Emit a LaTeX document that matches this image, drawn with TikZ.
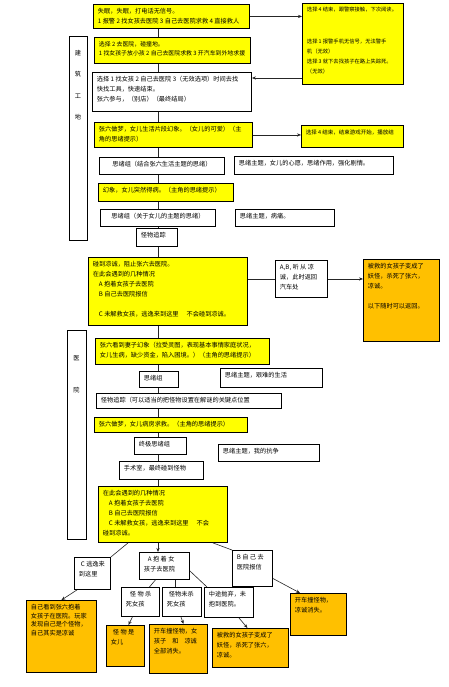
\documentclass[tikz,border=0pt]{standalone}
\usepackage{fontspec}
\newfontfamily\cjk{Noto Sans CJK SC}
\usetikzlibrary{arrows.meta}
\XeTeXlinebreaklocale "zh"
\XeTeXlinebreakskip=0pt plus 0.5pt
\definecolor{yel}{HTML}{FFFF00}
\definecolor{org}{HTML}{FFC000}
\tikzset{
 bx/.style={draw=black, line width=0.9pt, anchor=north west, inner xsep=4.5pt, inner ysep=4pt, font=\cjk\fontsize{6.2}{10}\selectfont, fill=white},
 yb/.style={bx, fill=yel},
 ob/.style={bx, fill=org},
 ln/.style={draw=black!85, line width=0.6pt},
 ar/.style={ln, -{Stealth[length=4pt,width=3.2pt]}},
 lb/.style={draw=black, line width=0.9pt, anchor=north west, inner sep=0pt, fill=white},
 lt/.style={inner sep=0pt, align=center},
}
\newcommand\B[7]{\node[#6] (#1) at (#2,#3) {\parbox[t][\dimexpr#5pt-8pt\relax][t]{\dimexpr#4pt-9pt\relax}{\raggedright #7}};}
\begin{document}
\begin{tikzpicture}[x=1pt,y=-1pt]
\fill[white] (0,0) rectangle (449,687);
\useasboundingbox (0,0) rectangle (449,687);
% side labels
\node[lb, minimum width=18pt, minimum height=204pt] (L1) at (69,36) {};
\node[lt, font=\cjk\fontsize{6.2}{21.5}\selectfont] (L1t) at (78,85) {建\\筑\\工\\地};
\node[lb, minimum width=19pt, minimum height=209pt] (L2) at (67,330) {};
\node[lt, font=\cjk\fontsize{6.2}{32}\selectfont] (L2t) at (76.5,374) {医\\院};
% boxes
\B{T1}{93}{4}{156}{24}{yb}{失眠，失眠，打电话无信号。\\1 报警 2 找女孩去医院 3 自己去医院求救 4 直接救人}
\B{R1}{302}{3}{101}{81}{yb}{\fontsize{5.3}{10}\selectfont 选择 4 结束，跟警察接触，下次阅读。\\[22pt]选择 1 报警手机无信号，无法警手\\机（无效）\\选择 3 就下去找孩子在路上失踪死。\\（无效）}
\B{T2}{94}{37}{156}{26}{yb}{\fontsize{5.9}{9.5}\selectfont 选择 2 去医院，碰撞地。\\1 找女孩子放小孩 2 自己去医院求救 3 开汽车到外地求援}
\B{T3}{92}{72}{159}{39}{bx}{选择 1 找女孩 2 自己去医院 3（无效选项）时间去找\\快找工具，快速结束。\\张六参与，（别店）（最终结局）}
\B{T4}{94}{122}{158}{25}{yb}{张六做梦，女儿生活片段幻象。（女儿的可爱）（主\\角的思绪提示）}
\B{R4}{301}{125}{102}{22}{yb}{\fontsize{5.5}{10}\selectfont 选择 4 结束，结束游戏开始，播放结}
\B{S1}{99}{157}{125}{17}{bx}{\centering 思绪组（结合张六生活主题的思绪）}
\B{RS1}{234}{156}{159}{18}{bx}{思绪主题，女儿的心愿，思绪作用，强化剧情。}
\B{T5}{98}{183}{135}{18}{yb}{幻象，女儿突然得病。（主角的思绪提示）}
\B{S2}{100}{209}{115}{17}{bx}{\centering 思绪组（关于女儿的主题的思绪）}
\B{RS2}{235}{209}{99}{17}{bx}{思绪主题，病痛。}
\B{G1}{136}{228}{41}{18}{bx}{怪物追踪}
\B{Y1}{88}{257}{159}{68}{yb}{碰到凉诚，阻止张六去医院。\\在此会遇到的几种情况\\\hspace*{6pt}A 抱着女孩子去医院\\\hspace*{6pt}B 自己去医院报信\\[10pt]\hspace*{6pt}C 未解救女孩，逃逸来到这里\hspace{8pt}不会碰到凉诚。}
\B{W1}{275}{260}{52}{37}{bx}{A,B, 听 从 凉\\诚，此时返回\\汽车处}
\B{O1}{363}{259}{76}{82}{ob}{被救的女孩子变成了\\妖怪，杀死了张六，\\凉诚。\\[10pt]以下随时可以返回。}
\B{Y2}{95}{338}{174}{26}{yb}{张六看到妻子幻象（拉受灵图，表现基本事情家庭状况，\\女儿生病，缺少资金，陷入困境。）（主角的思绪提示）}
\B{S3}{139}{371}{39}{16}{bx}{思绪组}
\B{RS3}{220}{368}{102}{19}{bx}{思绪主题，艰难的生活}
\B{G2}{96}{393}{185}{15}{bx}{怪物追踪（可以适当的把怪物设置在解谜的关键点位置}
\B{Y3}{94}{417}{153}{15}{yb}{张六做梦，女儿病房求救。（主角的思绪提示）}
\B{S4}{134}{437}{52}{17}{bx}{终极思绪组}
\B{RS4}{218}{444}{101}{17}{bx}{思绪主题，我的抗争}
\B{SS}{119}{461}{84}{18}{bx}{手术室，最终碰到怪物}
\B{Y4}{98}{486}{129}{56}{yb}{在此会遇到的几种情况\\\hspace*{6pt}A 抱着女孩子去医院\\\hspace*{6pt}B 自己去医院报信\\\hspace*{6pt}C 未解救女孩，逃逸来到这里\hspace{8pt}不会\\碰到凉诚。}
\B{C}{74}{557}{36}{32}{bx}{\hspace*{2pt}C 逃逸来\\到这里}
\B{A}{139}{552}{50}{27}{bx}{\hspace*{4pt}A 抱 着 女\\孩子去医院}
\B{B}{232}{550}{40}{36}{bx}{B 自 己 去\\医院报信}
\B{A1}{121}{587}{38}{29}{bx}{\hspace*{4pt}怪 物 杀\\死女孩}
\B{A2}{162}{587}{39}{29}{bx}{\hspace*{2pt}怪物未杀\\死女孩}
\B{A3}{204}{587}{49}{30}{bx}{中途抛弃，未\\抱到医院。}
\B{OC}{26}{600}{70}{72}{ob}{\fontsize{6.2}{8.6}\selectfont 自己看到张六抱着\\女孩子在医院。玩家\\发现自己是个怪物，\\自己其实是凉诚}
\B{OA1}{106}{625}{38}{41}{ob}{\hspace*{2pt}怪 物 是\\女儿}
\B{OA2}{149}{624}{58}{49}{ob}{开车撞怪物，女\\孩子\hspace{6pt}和\hspace{6pt}凉诚\\全部消失。}
\B{OA3}{212}{628}{76}{39}{ob}{被救的女孩子变成了\\妖怪，杀死了张六，\\凉诚。}
\B{OB}{290}{593}{56}{42}{ob}{开车撞怪物，\\凉诚消失。}
% connectors
\coordinate (sp) at (158,0);
\coordinate (h78) at (0,78);
\foreach \a/\b in {T1/T2,T2/T3,T3/T4,T4/S1,S1/T5,T5/S2,S2/G1,G1/Y1,Y1/Y2,Y2/S3,S3/G2,G2/Y3,Y3/S4,S4/SS,SS/Y4}
  \draw[ln] (\a.south -| sp) -- (\b.north -| sp);
\draw[ar] (Y4.south -| sp) -- (A.north -| sp);
\draw[ar] (T1.east) -- (T1.east -| R1.west);
\draw[ar] (R1.west |- h78) -- (T3.east |- h78);
\draw[ar] (T4.east) -- (T4.east -| R4.west);
\draw[ln] (W1.west -| Y1.east) -- (W1.west);
\draw[ar] (W1.east) -- (W1.east -| O1.west);
\draw[ln] ([xshift=30pt]Y4.south west) -- (C.north east);
\draw[ln] ([xshift=-15pt]Y4.south east) -- (B.north west);
\draw[ar] ([xshift=3pt]C.south west) -- (OC.north);
\draw[ln] ([xshift=-9pt]A.south) -- ([xshift=9pt]A1.north);
\draw[ln] ([xshift=11pt]A.south) -- ([xshift=11pt]A.south |- A2.north);
\draw[ln] ([yshift=-5pt]A.east) -- ([xshift=3pt]A3.north west);
\draw[ar] ([xshift=-8pt]A1.south) -- ([xshift=3pt]OA1.north);
\draw[ar] ([xshift=-1pt]A2.south) -- ([xshift=5pt]OA2.north);
\draw[ar] ([xshift=10pt]A3.south) -- ([xshift=-3pt]OA3.north);
\draw[ar] ([yshift=-10pt]B.east) -- ([xshift=10pt]OB.north west);
\end{tikzpicture}
\end{document}
